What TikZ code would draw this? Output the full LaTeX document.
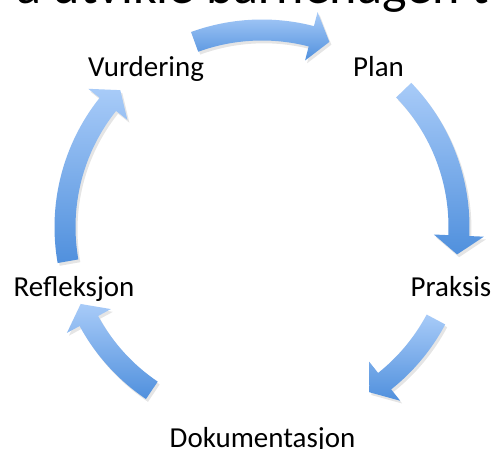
\documentclass[tikz,border=0pt]{standalone}
\usepackage{fontspec}
\setmainfont{Carlito}
\definecolor{arrowlight}{RGB}{168,203,248}
\definecolor{arrowdark}{RGB}{80,144,221}
\tikzset{steptext/.style={inner sep=0pt,anchor=base,font=\fontsize{20.6}{24}\selectfont}}
\newcommand{\arrowpath}[2]{%
    (#1:5.1875) arc[start angle=#1,end angle=\headbase,radius=5.1875]
    --(\headbase:5.55)--(#2:4.925)--(\headbase:4.3)
    --(\headbase:4.6625) arc[start angle=\headbase,end angle=#1,radius=4.6625]--cycle}
\newcommand{\cyclearrow}[2]{%
  \pgfmathsetmacro{\headbase}{#2+5.5}
  \fill[black,opacity=0.1,shift={(C)},xshift=0.05cm,yshift=-0.07cm] \arrowpath{#1}{#2};
  \shade[top color=arrowlight,bottom color=arrowdark,shift={(C)}] \arrowpath{#1}{#2};}
\begin{document}
\begin{tikzpicture}[line join=round]
\useasboundingbox (0,0) rectangle (12.3,-11.2);
\clip (0,0) rectangle (12.3,-11.2);
\fill[white](0,0) rectangle (12.3,-11.2);
\coordinate (C) at (6.55,-5.675);

\node[inner sep=0pt,anchor=base west,font=\fontsize{37}{44}\selectfont] (title) at (0.4,-0.075) {å utvikle barnehagen t};

\node[steptext] (vurd) at (3.65,-1.9) {Vurdering};
\node[steptext] (plan) at (9.4625,-1.9) {Plan};
\node[steptext] (praks) at (11.275,-7.4) {Praksis};
\node[steptext] (dok) at (6.5625,-11.175) {Dokumentasjon};
\node[steptext] (refl) at (1.85,-7.4) {Refleksjon};

\cyclearrow{110}{70}
\cyclearrow{44}{-8}
\cyclearrow{-28}{-57}
\cyclearrow{236}{203}
\cyclearrow{190}{136}
\end{tikzpicture}
\end{document}
